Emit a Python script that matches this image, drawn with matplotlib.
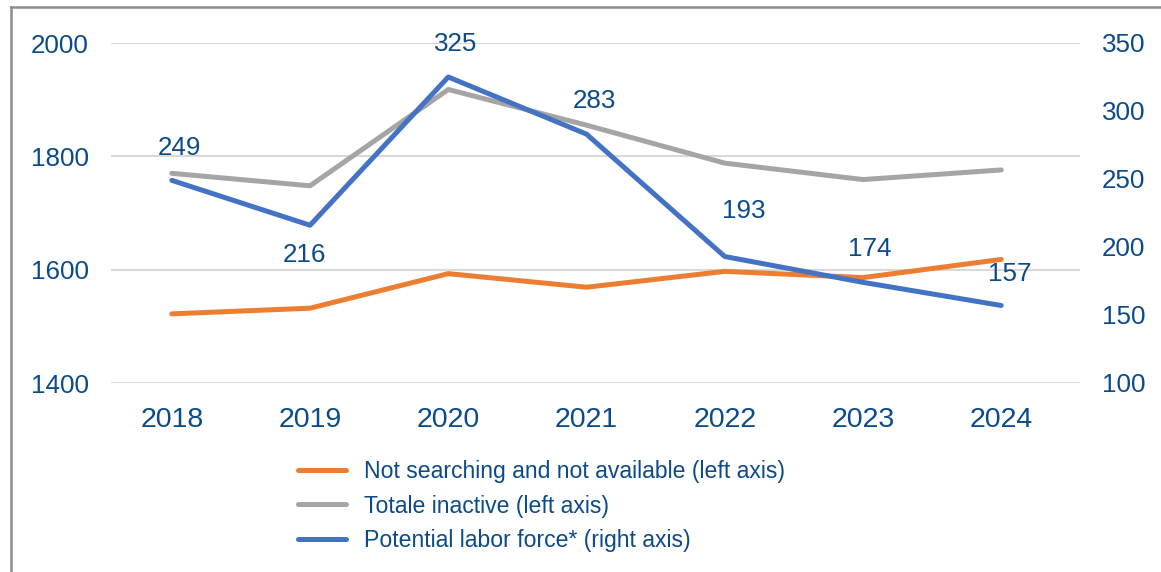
import matplotlib
matplotlib.use("Agg")
import matplotlib.pyplot as plt
from matplotlib.lines import Line2D

plt.rcParams["font.family"] = ["Liberation Sans", "DejaVu Sans"]

years = ["2018", "2019", "2020", "2021", "2022", "2023", "2024"]
not_searching = [1522, 1532, 1593, 1569, 1597, 1586, 1618]   # left axis
total_inactive = [1770, 1748, 1918, 1855, 1788, 1759, 1776]  # left axis
potential_lf = [249, 216, 325, 283, 193, 174, 157]           # right axis

labels = [
    "Not searching and not available (left axis)",
    "Totale inactive (left axis)",
    "Potential labor force* (right axis)",
]

ORANGE = "#ED7D31"
GRAY = "#A5A5A5"
BLUE = "#4472C4"
TXT = "#0B4A8B"

# label offsets (px) for the blue data labels
lab_off = [(8, 32), (-6, -30), (7, 33), (8, 33), (19, 46), (7, 33), (9, 31)]

fig = plt.figure(figsize=(11.61, 5.72), dpi=100)
ax = fig.add_axes([111 / 1161, 1 - 383 / 572, (1080 - 111) / 1161, 340 / 572])
ax2 = ax.twinx()

x = list(range(len(years)))
lw = 3.6
ax.plot(x, not_searching, color=ORANGE, lw=lw, solid_capstyle="round", zorder=3)
ax.plot(x, total_inactive, color=GRAY, lw=lw, solid_capstyle="round", zorder=3)
ax2.plot(x, potential_lf, color=BLUE, lw=lw, solid_capstyle="round", zorder=3)

ax.set_xlim(-0.44, 6.57)
ax.set_ylim(1400, 2000)
ax.set_yticks([1400, 1600, 1800, 2000])
ax2.set_ylim(100, 350)
ax2.set_yticks([100, 150, 200, 250, 300, 350])

ax.set_xticks(x)
ax.set_xticklabels(years)
ax.grid(axis="y", color="#D9D9D9", lw=1.5)
ax.set_axisbelow(True)

for a in (ax, ax2):
    for s in a.spines.values():
        s.set_visible(False)
    a.tick_params(length=0, colors=TXT)
ax.tick_params(axis="y", labelsize=18.7, pad=16)
ax.tick_params(axis="x", labelsize=20.5, pad=17)
ax2.tick_params(axis="y", labelsize=18.7, pad=16)

for i, v in enumerate(potential_lf):
    dx, dy = lab_off[i]
    ax2.annotate(str(v), (x[i], v), xytext=(dx * 0.72, dy * 0.72),
                 textcoords="offset points", ha="center", va="center",
                 fontsize=18.7, color=TXT)

handles = [Line2D([], [], color=c, lw=lw, solid_capstyle="round")
           for c in (ORANGE, GRAY, BLUE)]
fig.legend(handles, labels, loc="upper left",
           bbox_to_anchor=(298 / 1161, 1 - 460 / 572),
           frameon=False, fontsize=16.6, handlelength=2.08,
           handletextpad=0.78, labelspacing=0.5, borderpad=0,
           borderaxespad=0, labelcolor=TXT)

# outer frame (left and top edges visible)
fig.add_artist(Line2D([11 / 1161, 11 / 1161], [0, 1 - 7 / 572],
                      transform=fig.transFigure, color="#8C8C8C", lw=1.8))
fig.add_artist(Line2D([11 / 1161, 1], [1 - 7 / 572, 1 - 7 / 572],
                      transform=fig.transFigure, color="#8C8C8C", lw=1.8))

fig.savefig("out.png", dpi=100)
